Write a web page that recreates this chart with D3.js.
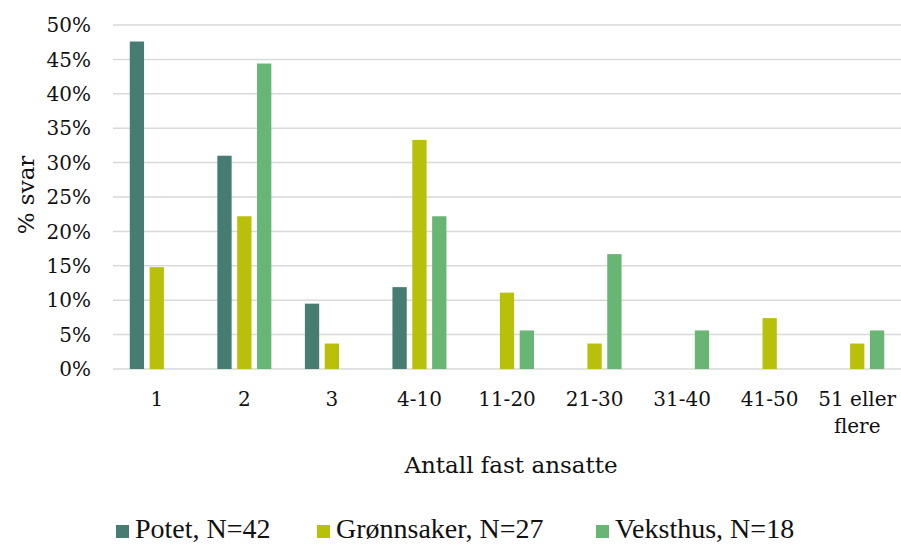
<!DOCTYPE html>
<html><head><meta charset="utf-8">
<script src="https://cdn.jsdelivr.net/npm/d3@7"></script>
</head><body style="margin:0;background:#fff"><svg id="c" width="901" height="545"></svg>
<script>
const categories = ["1","2","3","4-10","11-20","21-30","31-40","41-50","51 eller flere"];
const seriesNames = ["Potet, N=42","Grønnsaker, N=27","Veksthus, N=18"];
const potet = [47.6,31.0,9.5,11.9,0,0,0,0,0];
const gronnsaker = [14.8,22.2,3.7,33.3,11.1,3.7,0,7.4,3.7];
const veksthus = [0,44.4,0,22.2,5.6,16.7,5.6,0,5.6];
const yTicks = [0,5,10,15,20,25,30,35,40,45,50];
const colors = ["#467c72","#b8c00a","#69b573"];
const series = [potet,gronnsaker,veksthus];

(function(){
const svg = d3.select("#c");
const F1='"DejaVu Serif", serif', F2='"Liberation Serif", serif', TC="#111";
const pl=113, pr=901, pt=25, pb=369;
const x0 = d3.scaleBand().domain(categories).range([pl,pr]).paddingInner(0).paddingOuter(0);
const x1 = d3.scaleBand().domain(d3.range(3)).range([(x0.bandwidth()-54)/2,(x0.bandwidth()+54)/2]).paddingInner(0.28).paddingOuter(0);
const y = d3.scaleLinear().domain([0,50]).range([pb,pt]);

svg.append("g").selectAll("line").data(yTicks).join("line")
  .attr("x1",pl).attr("x2",pr).attr("y1",d=>y(d)).attr("y2",d=>y(d))
  .attr("stroke","#d9d9d9").attr("stroke-width",1.5);

svg.append("g").selectAll("text").data(yTicks).join("text")
  .attr("x",91).attr("y",d=>y(d)).attr("dy","0.36em").attr("text-anchor","end")
  .style("font-family",F1).attr("font-size",20).attr("fill",TC).text(d=>d+"%");

series.forEach((s,i)=>{
  svg.append("g").selectAll("rect").data(s.map((v,j)=>({c:categories[j],v})).filter(d=>d.v>0)).join("rect")
    .attr("x",d=>x0(d.c)+x1(i)).attr("width",x1.bandwidth())
    .attr("y",d=>y(d.v)).attr("height",d=>y(0)-y(d.v))
    .attr("fill",colors[i]);
});

const xl = svg.append("g").selectAll("text").data(categories).join("text")
  .attr("x",d=>x0(d)+x0.bandwidth()/2).attr("y",406).attr("text-anchor","middle")
  .style("font-family",F1).attr("font-size",20).attr("fill",TC);
xl.each(function(d){
  const t=d3.select(this);
  if(d==="51 eller flere"){
    t.append("tspan").attr("x",x0(d)+x0.bandwidth()/2).text("51 eller");
    t.append("tspan").attr("x",x0(d)+x0.bandwidth()/2).attr("dy",27).text("flere");
  } else t.text(d);
});

svg.append("text").attr("x",511).attr("y",473).attr("text-anchor","middle")
  .style("font-family",F1).attr("font-size",23).attr("fill",TC).text("Antall fast ansatte");
svg.append("text").attr("transform","translate(34,195) rotate(-90)").attr("text-anchor","middle")
  .style("font-family",F1).attr("font-size",23).attr("fill",TC).text("% svar");

const legX=[116,317,596];
const lg = svg.append("g").selectAll("g").data(seriesNames).join("g").attr("transform",(d,i)=>`translate(${legX[i]},0)`);
lg.append("rect").attr("x",0).attr("y",525).attr("width",13).attr("height",13).attr("fill",(d,i)=>colors[i]);
lg.append("text").attr("x",19).attr("y",538).style("font-family",F2).attr("font-size",28).attr("fill",TC).text(d=>d);
})();
</script></body></html>
